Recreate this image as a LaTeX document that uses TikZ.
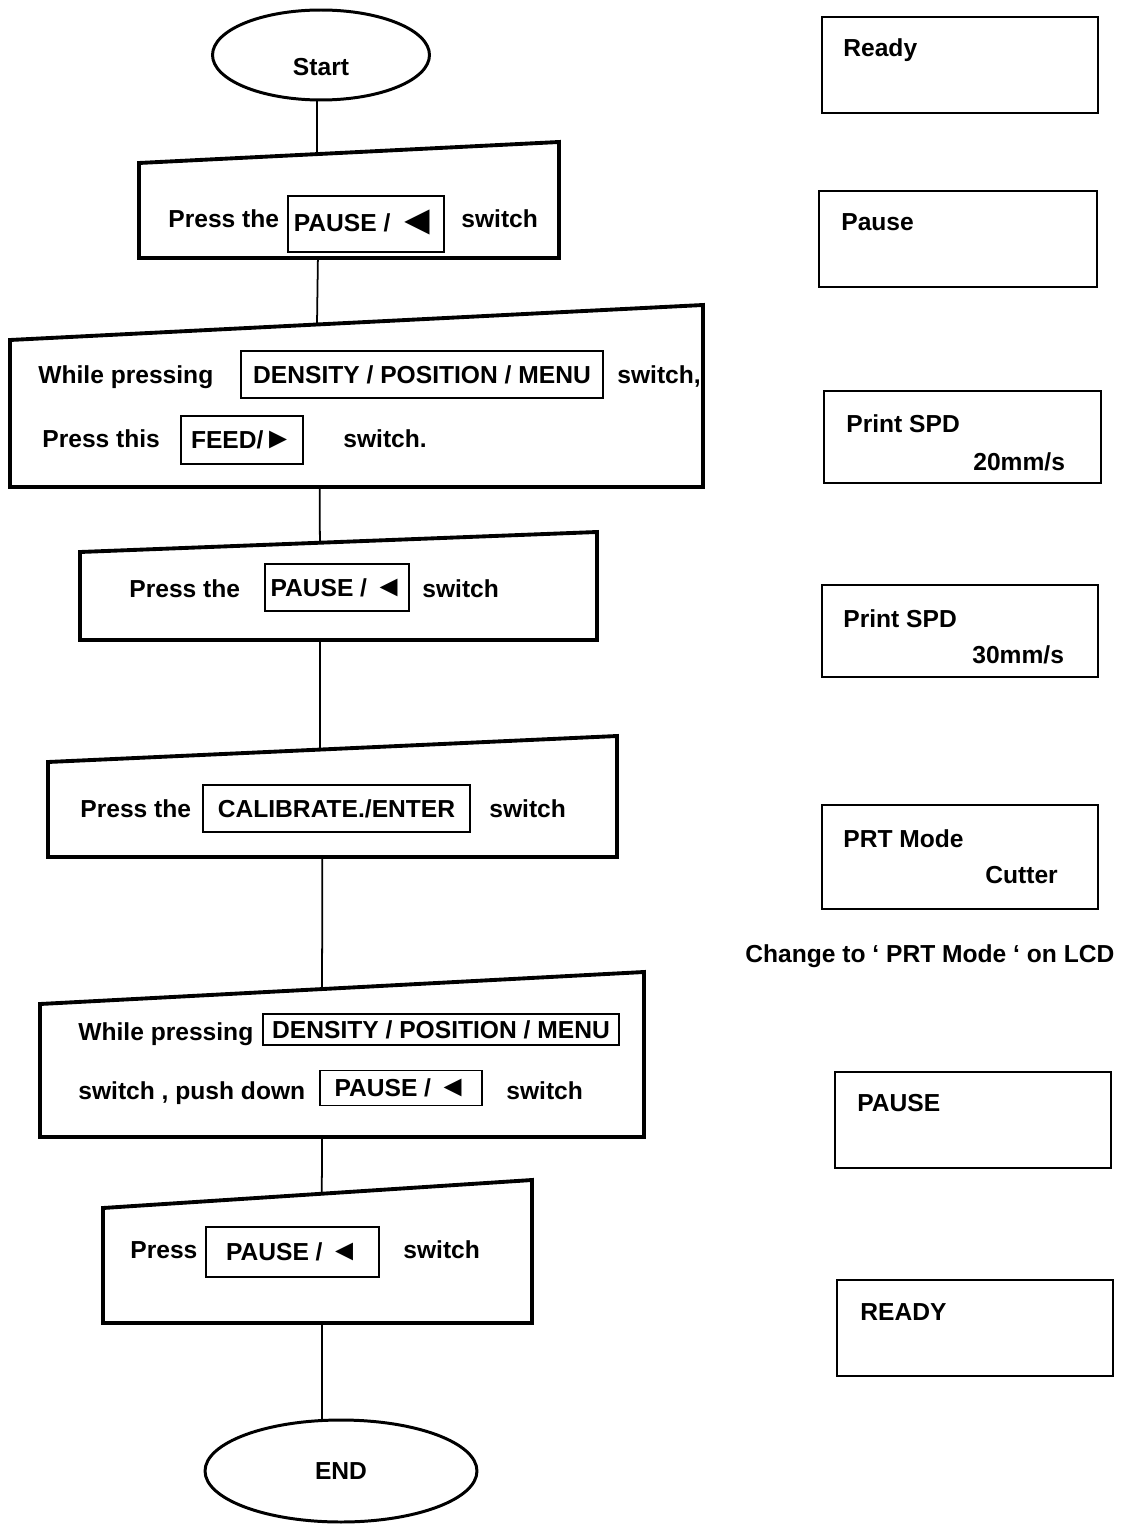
\documentclass[tikz,border=0pt]{standalone}
\usepackage{fontspec}
\setmainfont{Liberation Sans}
\usetikzlibrary{shapes.geometric}

% arrow keys on the printer panel
\newcommand{\keyleft}{{\fontsize{17}{17}\selectfont ◄}}
\newcommand{\keyright}{{\fontsize{17}{17}\selectfont ►}}

\begin{document}
\begin{tikzpicture}[x=0.02cm,y=-0.02cm,
  font=\fontsize{14}{16}\selectfont\bfseries,
  every node/.style={inner sep=0pt},
  oval/.style={ellipse,draw,line width=1.7pt},
  inputbox/.style={draw,line width=2.2pt,line join=miter},
  keybox/.style={draw,line width=0.8pt},
  lcd/.style={draw,line width=1pt,minimum width=5.52cm},
  txt/.style={anchor=base west},
  link/.style={line width=1pt}]

\useasboundingbox (0,0) rectangle (1132,1527);

% start
\node[oval,minimum width=4.34cm,minimum height=1.8cm,text height=0.84cm] (start) at (321,55) {Start};

% manual input steps
\draw[inputbox] (139,163) -- coordinate[pos=.424] (in1) (559,142) -- (559,258)
  -- coordinate[pos=.574] (out1) (139,258) -- cycle;
\node[txt] (p1a) at (168,228) {Press the};
\node[keybox,minimum width=3.12cm,minimum height=1.12cm] (k1) at (366,224)
  {\raisebox{2pt}{PAUSE /}\hspace{0.12cm}\smash{\fontsize{24}{24}\selectfont ◄}};
\node[txt] (p1b) at (461,228) {switch};

\draw[inputbox] (10,340) -- coordinate[pos=.443] (in2) (703,305) -- (703,487)
  -- coordinate[pos=.553] (out2) (10,487) -- cycle;
\node[txt] (p2a) at (38,383) {While pressing};
\node[keybox,minimum width=7.24cm,minimum height=0.94cm] (k2) at (422,374.5)
  {DENSITY / POSITION / MENU};
\node[txt] (p2b) at (617,383) {switch,};
\node[txt] (p2c) at (42,447) {Press this};
\node[keybox,minimum width=2.44cm,minimum height=0.96cm] (k3) at (242,440) {FEED/\keyright};
\node[txt] (p2d) at (343,447) {switch.};

\draw[inputbox] (80,552) -- coordinate[pos=.464] (in3) (597,532) -- (597,640)
  -- coordinate[pos=.536] (out3) (80,640) -- cycle;
\node[txt] (p3a) at (129,597) {Press the};
\node[keybox,minimum width=2.88cm,minimum height=0.94cm] (k4) at (337,587.5) {PAUSE / \keyleft};
\node[txt] (p3b) at (422,597) {switch};

\draw[inputbox] (48,762) -- coordinate[pos=.478] (in4) (617,736) -- (617,857)
  -- coordinate[pos=.518] (out4) (48,857) -- cycle;
\node[txt] (p4a) at (80,817) {Press the};
\node[keybox,minimum width=5.34cm,minimum height=0.94cm] (k5) at (336.5,808.5)
  {CALIBRATE./ENTER};
\node[txt] (p4b) at (489,817) {switch};

\draw[inputbox] (40,1004) -- coordinate[pos=.467] (in5) (644,972) -- (644,1137)
  -- coordinate[pos=.533] (out5) (40,1137) -- cycle;
\node[txt] (p5a) at (78,1040) {While pressing};
\node[keybox,minimum width=7.12cm,minimum height=0.62cm] (k6) at (441,1029.5)
  {DENSITY / POSITION / MENU};
\node[txt] (p5b) at (78,1099) {switch , push down};
\node[keybox,minimum width=3.24cm,minimum height=0.7cm] (k7) at (401,1088) {PAUSE / \keyleft};
\node[txt] (p5c) at (506,1099) {switch};

\draw[inputbox] (103,1208) -- coordinate[pos=.51] (in6) (532,1180) -- (532,1323)
  -- coordinate[pos=.49] (out6) (103,1323) -- cycle;
\node[txt] (p6a) at (130,1258) {Press};
\node[keybox,minimum width=3.46cm,minimum height=1cm] (k8) at (292.5,1252) {PAUSE / \keyleft};
\node[txt] (p6b) at (403,1258) {switch};

% end
\node[oval,minimum width=5.44cm,minimum height=2.04cm] (finish) at (341,1471) {END};

% flow lines
\draw[link] (start.south -| in1) -- (in1);
\draw[link] (out1) -- (in2);
\draw[link] (out2) -- (in3);
\draw[link] (out3) -- (in4);
\draw[link] (out4) -- (in5);
\draw[link] (out5) -- (in6);
\draw[link] (out6) -- (out6 |- finish.north);

% LCD messages
\node[lcd,minimum height=1.92cm] (lcd1) at (960,65) {};
\node[txt] (m1) at (843,57) {Ready};
\node[lcd,minimum width=5.56cm,minimum height=1.92cm] (lcd2) at (958,239) {};
\node[txt] (m2) at (841,231) {Pause};
\node[lcd,minimum width=5.54cm,minimum height=1.84cm] (lcd3) at (962.5,437) {};
\node[txt] (m3a) at (846,432) {Print SPD};
\node[txt] (m3b) at (973,470) {20mm/s};
\node[lcd,minimum height=1.84cm] (lcd4) at (960,631) {};
\node[txt] (m4a) at (843,627) {Print SPD};
\node[txt] (m4b) at (972,663) {30mm/s};
\node[lcd,minimum height=2.08cm] (lcd5) at (960,857) {};
\node[txt] (m5a) at (843,847) {PRT Mode};
\node[txt] (m5b) at (985,883) {Cutter};
\node[txt] (note) at (745,962) {Change to ‘ PRT Mode ‘ on LCD};
\node[lcd,minimum height=1.92cm] (lcd6) at (973,1120) {};
\node[txt] (m6) at (857,1111) {PAUSE};
\node[lcd,minimum height=1.92cm] (lcd7) at (975,1328) {};
\node[txt] (m7) at (860,1320) {READY};
\end{tikzpicture}
\end{document}
